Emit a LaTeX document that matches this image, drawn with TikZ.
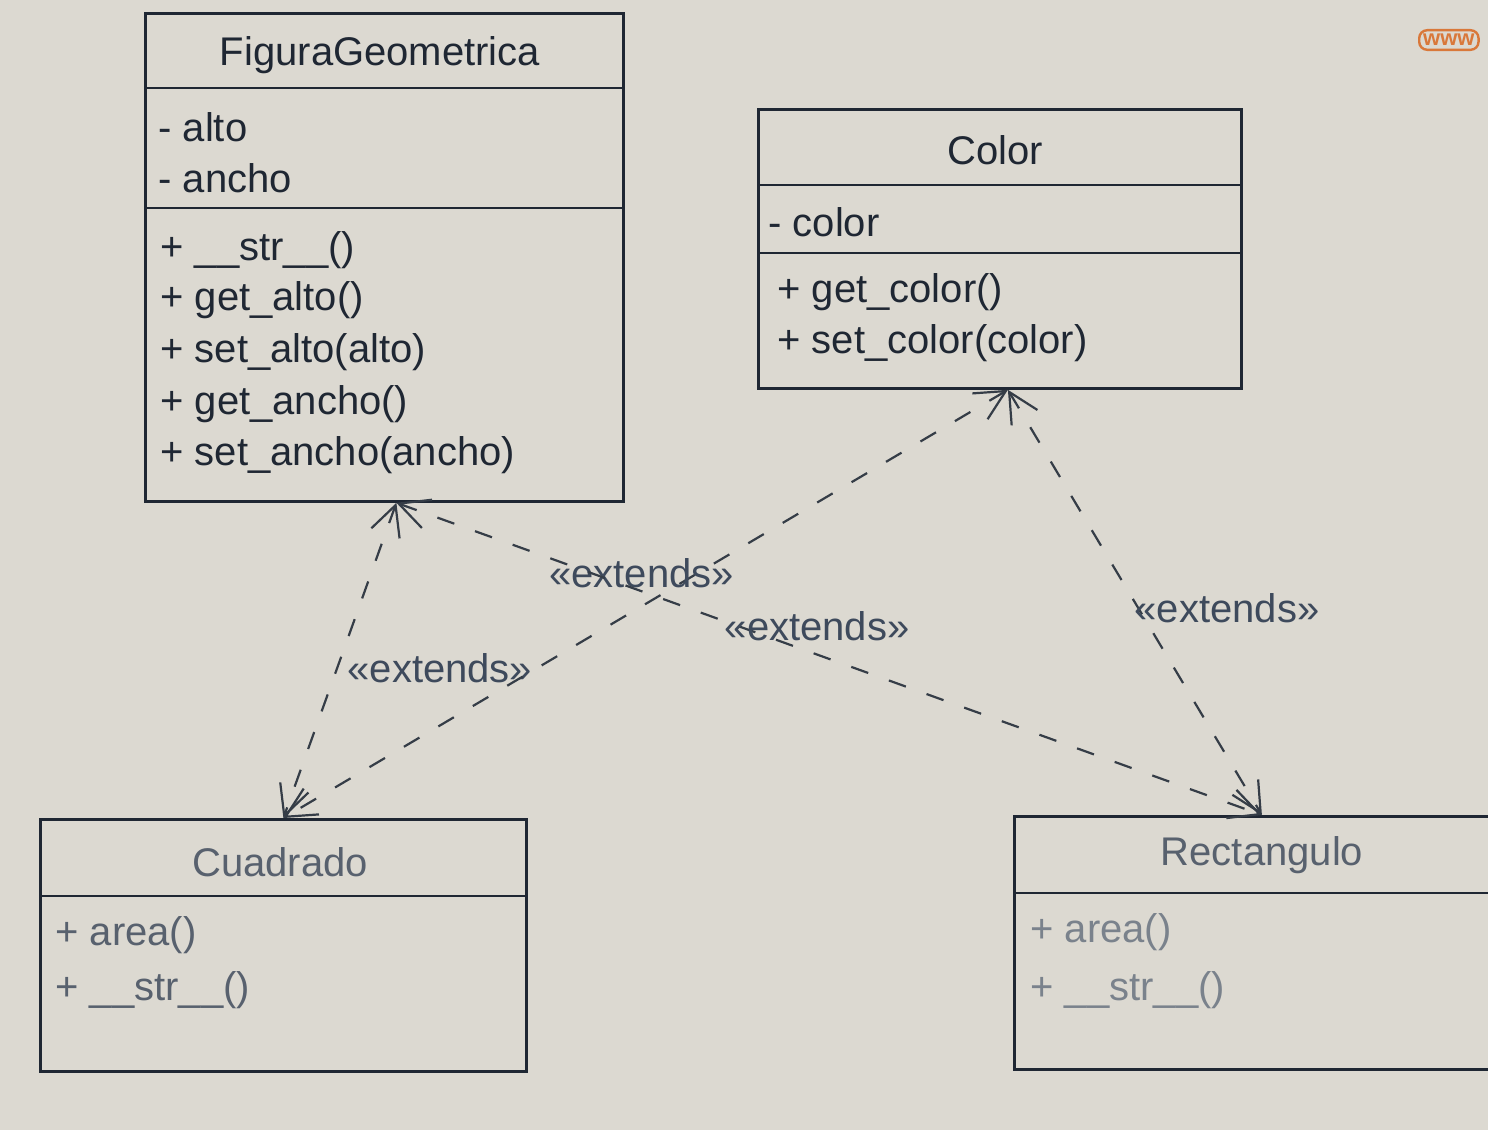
\documentclass[tikz,border=0pt]{standalone}
\usepackage{fontspec}
\setmainfont{Liberation Sans}
\usetikzlibrary{arrows.meta,calc}
\definecolor{bg}{HTML}{DCD9D1}
\definecolor{ink}{HTML}{1F2733}
\definecolor{soft}{HTML}{58616E}
\definecolor{softer}{HTML}{7A828C}
\definecolor{lbl}{HTML}{3E4A5C}
\definecolor{wwwc}{HTML}{D9783A}
\begin{document}
\begin{tikzpicture}[x=0.5pt,y=-0.5pt,
  box/.style={draw=ink, line width=1.4pt, inner sep=0pt, anchor=north west},
  divider/.style={draw=ink, line width=1.4pt},
  ttl/.style={font=\fontsize{20}{24}\selectfont, text=ink},
  mem/.style={font=\fontsize{20}{24}\selectfont, text=ink, anchor=west, inner sep=0pt},
  ext/.style={draw=ink!90, line width=1.1pt, dash pattern=on 9pt off 11pt,
    {Straight Barb[length=15pt,width=15pt]}-{Straight Barb[length=15pt,width=15pt]}},
  lab/.style={font=\fontsize{20}{24}\selectfont, text=lbl}]
\useasboundingbox (0,0) rectangle (1488,1130);
\fill[bg] (0,0) rectangle (1488,1130);

% FiguraGeometrica
\node[box, minimum width=239pt, minimum height=244pt] (fg) at (144,12) {};
\draw[divider] (fg.west |- 0,88) -- (fg.east |- 0,88);
\draw[divider] (fg.west |- 0,208) -- (fg.east |- 0,208);
\node[ttl] (fgt) at (380,55) {FiguraGeometrica};
\node[mem] (fg1) at (158,127) {- alto};
\node[mem] (fg2) at (158,178) {- ancho};
\node[mem] (fg3) at (160,250) {+ \_\_str\_\_()};
\node[mem] (fg4) at (160,300) {+ get\_alto()};
\node[mem] (fg5) at (160,352) {+ set\_alto(alto)};
\node[mem] (fg6) at (160,404) {+ get\_ancho()};
\node[mem] (fg7) at (160,455) {+ set\_ancho(ancho)};

% Color
\node[box, minimum width=241.5pt, minimum height=139.5pt] (co) at (757,108) {};
\draw[divider] (co.west |- 0,185) -- (co.east |- 0,185);
\draw[divider] (co.west |- 0,253) -- (co.east |- 0,253);
\node[ttl] (cot) at (995,150) {Color};
\node[mem] (co1) at (768,222) {- color};
\node[mem] (co2) at (777,292) {+ get\_color()};
\node[mem] (co3) at (777,343) {+ set\_color(color)};

% Cuadrado
\node[box, minimum width=243pt, minimum height=126pt] (cu) at (39,818) {};
\draw[divider] (cu.west |- 0,896) -- (cu.east |- 0,896);
\node[ttl, text=soft] (cut) at (280,862) {Cuadrado};
\node[mem, text=soft] (cu1) at (55,935) {+ area()};
\node[mem, text=soft] (cu2) at (55,990) {+ \_\_str\_\_()};

% Rectangulo
\node[box, minimum width=243.5pt, minimum height=126.5pt] (re) at (1013,815) {};
\draw[divider] (re.west |- 0,893) -- (re.east |- 0,893);
\node[ttl, text=soft] (ret) at (1262,855) {Rectangulo};
\node[mem, text=softer] (re1) at (1030,932) {+ area()};
\node[mem, text=softer] (re2) at (1030,990) {+ \_\_str\_\_()};

% connection points
\coordinate (A) at ($(fg.south)+(12,0)$);
\coordinate (B) at ($(co.south)+(8,0)$);
\coordinate (C) at ($(cu.north)+(0,0)$);
\coordinate (R) at ($(re.north)+(4,0)$);

% connectors
\draw[ext] (A) -- node[lab, pos=.5, anchor=west, xshift=0pt, yshift=-4pt] {«extends»} (C);
\draw[ext] (B) -- node[lab, pos=.5, anchor=south, xshift=-2pt, yshift=4pt] {«extends»} (C);
\draw[ext] (A) -- node[lab, pos=.5, anchor=south, xshift=-6pt, yshift=5pt] {«extends»} (R);
\draw[ext] (B) -- node[lab, pos=.5, anchor=west, xshift=-4pt, yshift=-3pt] {«extends»} (R);

% corner mark
\node[draw=wwwc, line width=1.2pt, rounded corners=4pt, text=wwwc, font=\bfseries\fontsize{11}{12}\selectfont, inner sep=2pt, anchor=west] (www) at (1418,40) {www};
\end{tikzpicture}
\end{document}
